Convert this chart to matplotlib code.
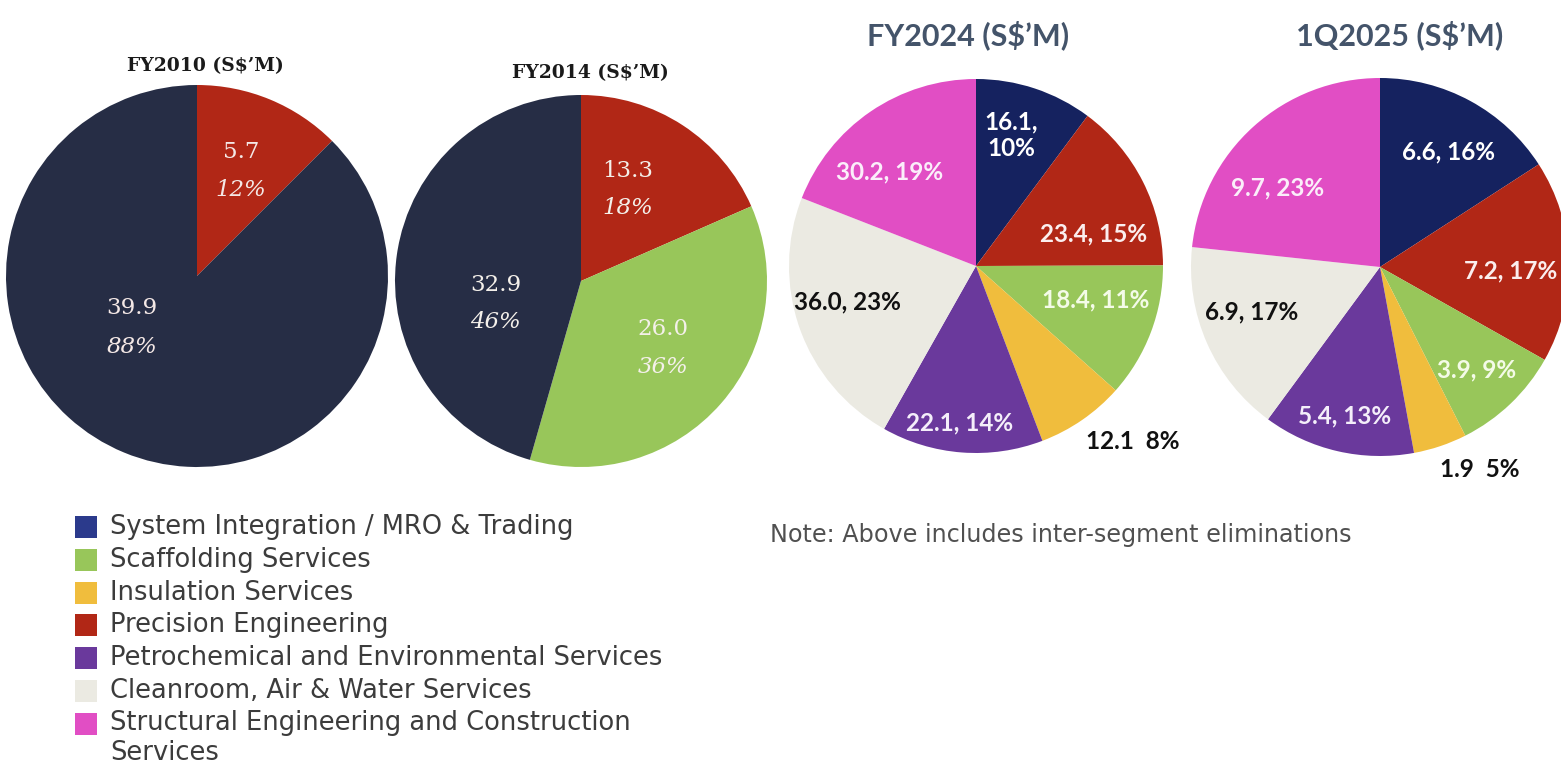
import matplotlib
matplotlib.use("Agg")
import matplotlib.pyplot as plt
from matplotlib.patches import Rectangle

W, H = 1561, 766

# ---------------- data ----------------
segments = ["System Integration / MRO & Trading", "Scaffolding Services",
            "Insulation Services", "Precision Engineering",
            "Petrochemical and Environmental Services",
            "Cleanroom, Air & Water Services",
            "Structural Engineering and Construction\nServices"]

fy2010_values = [5.7, 39.9]
fy2010_pcts = ["12%", "88%"]
fy2014_values = [13.3, 26.0, 32.9]
fy2014_pcts = ["18%", "36%", "46%"]
fy2024_values = [16.1, 23.4, 18.4, 12.1, 22.1, 36.0, 30.2]
fy2024_pcts = ["10%", "15%", "11%", "8%", "14%", "23%", "19%"]
q2025_values = [6.6, 7.2, 3.9, 1.9, 5.4, 6.9, 9.7]
q2025_pcts = ["16%", "17%", "9%", "5%", "13%", "17%", "23%"]

titles = ["FY2010 (S$’M)", "FY2014 (S$’M)", "FY2024 (S$’M)", "1Q2025 (S$’M)"]
note = "Note: Above includes inter-segment eliminations"

# ---------------- styles ----------------
NAVY_OLD = "#262d45"
NAVY = "#15225f"
RED = "#b12716"
GREEN = "#98c65a"
YELLOW = "#f0bd3d"
PURPLE = "#6a399c"
BEIGE = "#ebeae2"
PINK = "#e14ec4"
legend_colors = ["#2b3a8c", GREEN, YELLOW, RED, PURPLE, BEIGE, PINK]

fig = plt.figure(figsize=(W / 100, H / 100), dpi=100)
fig.patch.set_facecolor("white")


def pie_axes(cx, cy, r):
    return fig.add_axes([(cx - r) / W, 1 - (cy + r) / H, 2 * r / W, 2 * r / H])


def finish(ax):
    ax.set_xlim(-1, 1)
    ax.set_ylim(-1, 1)
    ax.set_aspect("equal")
    ax.axis("off")


serif = "DejaVu Serif"
sans = "Lato"

# ---- FY2010 ----
ax1 = pie_axes(197, 276, 191)
ax1.pie(fy2010_values, colors=[RED, NAVY_OLD], startangle=90, counterclock=False,
        radius=1, wedgeprops=dict(linewidth=0))
finish(ax1)
pos1 = [(0.23, 0.55), (-0.34, -0.27)]
for (x, y), v, p in zip(pos1, fy2010_values, fy2010_pcts):
    ax1.text(x, y + 0.1, f"{v:.1f}", ha="center", va="center", color="#f4e8e6",
             fontsize=16.5, family=serif)
    ax1.text(x, y - 0.1, p, ha="center", va="center", color="#f4e8e6",
             fontsize=16.5, family=serif, style="italic")
fig.text(205 / W, 1 - 66 / H, titles[0], ha="center", va="center", fontsize=13.5,
         family=serif, weight="bold", color="#1a1a1a")

# ---- FY2014 ----
ax2 = pie_axes(581, 281, 186)
ax2.pie(fy2014_values, colors=[RED, GREEN, NAVY_OLD], startangle=90, counterclock=False,
        radius=1, wedgeprops=dict(linewidth=0))
finish(ax2)
pos2 = [(0.25, 0.49), (0.44, -0.36), (-0.46, -0.12)]
for (x, y), v, p in zip(pos2, fy2014_values, fy2014_pcts):
    ax2.text(x, y + 0.1, f"{v:.1f}", ha="center", va="center", color="#f4f0ea",
             fontsize=16.5, family=serif)
    ax2.text(x, y - 0.1, p, ha="center", va="center", color="#f4f0ea",
             fontsize=16.5, family=serif, style="italic")
fig.text(590 / W, 1 - 73 / H, titles[1], ha="center", va="center", fontsize=13.5,
         family=serif, weight="bold", color="#1a1a1a")

new_colors = [NAVY, RED, GREEN, YELLOW, PURPLE, BEIGE, PINK]
txt_colors = ["white", "#fbeeee", "#f4fbe8", "#111111", "#f4eefa", "#111111", "#fbeefa"]

# ---- FY2024 ----
ax3 = pie_axes(976, 266, 187)
ax3.pie(fy2024_values, colors=new_colors, startangle=90, counterclock=False,
        radius=1, wedgeprops=dict(linewidth=0))
finish(ax3)
pos3 = [(0.19, 0.70), (0.63, 0.17), (0.64, -0.18), (0.84, -0.94),
        (-0.09, -0.84), (-0.69, -0.19), (-0.46, 0.505)]
for i, ((x, y), v, p) in enumerate(zip(pos3, fy2024_values, fy2024_pcts)):
    if i == 0:
        s = f"{v:.1f},\n{p}"
    elif i == 3:
        s = f"{v:.1f}  {p}"
    else:
        s = f"{v:.1f}, {p}"
    ax3.text(x, y, s, ha="center", va="center", color=txt_colors[i],
             fontsize=17.5, family=sans, weight="bold", linespacing=1.15)
fig.text(968 / W, 1 - 35 / H, titles[2], ha="center", va="center", fontsize=22,
         family=sans, weight="bold", color="#44546a")

# ---- 1Q2025 ----
ax4 = pie_axes(1380, 267, 189)
ax4.pie(q2025_values, colors=new_colors, startangle=90, counterclock=False,
        radius=1, wedgeprops=dict(linewidth=0))
finish(ax4)
pos4 = [(0.36, 0.61), (0.69, -0.02), (0.51, -0.545), (0.53, -1.07),
        (-0.185, -0.79), (-0.68, -0.24), (-0.54, 0.42)]
for i, ((x, y), v, p) in enumerate(zip(pos4, q2025_values, q2025_pcts)):
    s = f"{v:.1f}  {p}" if i == 3 else f"{v:.1f}, {p}"
    ax4.text(x, y, s, ha="center", va="center", color=txt_colors[i],
             fontsize=17.5, family=sans, weight="bold")
fig.text(1400 / W, 1 - 35 / H, titles[3], ha="center", va="center", fontsize=22,
         family=sans, weight="bold", color="#44546a")

# ---- legend ----
row_y = [527, 560, 593, 625, 658, 691, 724]
for yy, lab, col in zip(row_y, segments, legend_colors):
    fig.add_artist(Rectangle((75 / W, 1 - (yy + 11) / H), 22 / W, 22 / H,
                             transform=fig.transFigure, facecolor=col, edgecolor="none"))
    if "\n" in lab:
        fig.text(110 / W, 1 - (yy - 14) / H, lab, ha="left", va="top",
                 fontsize=18.5, family="DejaVu Sans", color="#3c3c3c", linespacing=1.2)
    else:
        fig.text(110 / W, 1 - yy / H, lab, ha="left", va="center",
                 fontsize=18.5, family="DejaVu Sans", color="#3c3c3c")

fig.text(770 / W, 1 - 535 / H, note, ha="left", va="center", fontsize=17.2,
         family="DejaVu Sans", color="#505050")

fig.savefig("out.png", dpi=100)
